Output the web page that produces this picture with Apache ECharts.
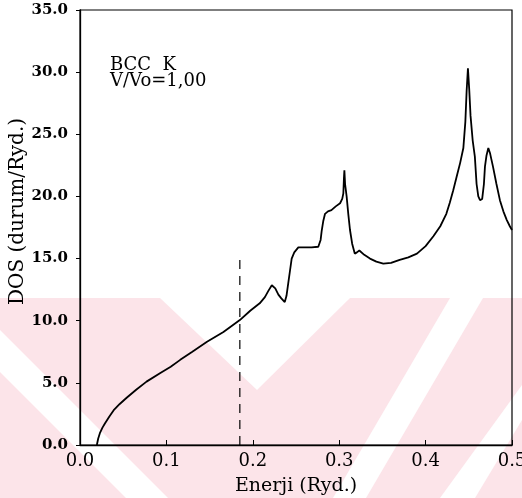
<!DOCTYPE html>
<html>
<head>
<meta charset="utf-8">
<script src="https://cdn.jsdelivr.net/npm/echarts@6/dist/echarts.min.js"></script>
<style>html,body{margin:0;padding:0;background:#fff;}#c{width:522px;height:498px;}</style>
</head>
<body>
<div id="c"></div>
<script>
// Energy (Ryd.) and DOS (states/Ryd.)
const energy = [0.0195,0.021,0.023,0.026,0.029,0.034,0.039,0.046,0.054,0.065,0.077,0.093,0.105,0.116,0.13,0.147,0.166,0.185,0.197,0.208,0.214,0.218,0.222,0.226,0.2296,0.233,0.237,0.239,0.241,0.243,0.245,0.248,0.2527,0.26,0.268,0.2758,0.2785,0.2797,0.2815,0.2836,0.287,0.291,0.296,0.301,0.3035,0.3048,0.3055,0.306,0.3068,0.3086,0.3105,0.3125,0.315,0.318,0.3205,0.3233,0.329,0.3356,0.343,0.351,0.36,0.37,0.38,0.39,0.4,0.409,0.417,0.424,0.428,0.432,0.436,0.44,0.4437,0.446,0.4475,0.449,0.4505,0.452,0.4545,0.457,0.459,0.461,0.463,0.4655,0.4675,0.4687,0.4705,0.4726,0.4745,0.478,0.482,0.486,0.49,0.494,0.4975,0.5];
const dos = [0,0.5,0.95,1.4,1.75,2.3,2.8,3.3,3.8,4.45,5.1,5.8,6.3,6.85,7.5,8.3,9.1,10.05,10.8,11.4,11.9,12.4,12.85,12.6,12.1,11.8,11.5,12.0,13.0,14.0,15.0,15.5,15.9,15.9,15.9,15.95,16.5,17.2,18.0,18.6,18.8,18.9,19.2,19.45,19.8,20.25,21.5,22.1,21.0,20.0,18.6,17.3,16.2,15.4,15.5,15.65,15.3,15.0,14.75,14.6,14.65,14.9,15.1,15.4,16.0,16.8,17.6,18.6,19.5,20.5,21.6,22.7,23.9,26.0,28.5,30.3,28.6,26.5,24.5,23.2,21.0,20.0,19.7,19.8,21.0,22.4,23.3,23.9,23.5,22.4,21.0,19.7,18.8,18.1,17.6,17.3];
// Fermi level marker (dashed)
const fermiX = [0.185, 0.185];
const fermiY = [0, 15];
const xTicks = ['0.0','0.1','0.2','0.3','0.4','0.5'];
const yTicks = ['0.0','5.0','10.0','15.0','20.0','25.0','30.0','35.0'];
const labelLines = ['BCC  K', 'V/Vo=1,00'];

const serif = '"DejaVu Serif", "Liberation Serif", serif';
const chart = echarts.init(document.getElementById('c'), null, {renderer: 'canvas'});
const pink = '#fce4e9';
chart.setOption({
  animation: false,
  backgroundColor: '#fff',
  graphic: [
    {type: 'rect', z: -10, silent: true, shape: {x: 0, y: 298, width: 522, height: 200}, style: {fill: pink}},
    {type: 'polygon', z: -9, silent: true, shape: {points: [[160,298],[350,298],[257,390]]}, style: {fill: '#fff'}},
    {type: 'polygon', z: -9, silent: true, shape: {points: [[0,330],[0,372],[126,498],[168,498]]}, style: {fill: '#fff'}},
    {type: 'polygon', z: -9, silent: true, shape: {points: [[450,298],[483,298],[366,498],[333,498]]}, style: {fill: '#fff'}},
    {type: 'polygon', z: -9, silent: true, shape: {points: [[522,385],[522,420],[475,498],[440,498]]}, style: {fill: '#fff'}},
    {type: 'text', left: 110, top: 56, z: 10, style: {text: labelLines.join('\n'), font: '18px ' + serif, fill: '#000', lineHeight: 16}}
  ],
  grid: {left: 80, right: 10, top: 10, bottom: 53, outerBoundsMode: 'none', containLabel: false,
         show: true, borderColor: '#000', borderWidth: 1.2, backgroundColor: 'transparent'},
  xAxis: {
    type: 'value', min: 0, max: 0.5, interval: 0.1,
    name: 'Enerji (Ryd.)', nameLocation: 'middle', nameGap: 32, nameMoveOverlap: false,
    nameTextStyle: {fontFamily: serif, fontSize: 19, color: '#000'},
    axisLine: {show: true, lineStyle: {color: '#000', width: 1.3}},
    axisTick: {show: true, inside: true, length: 5, lineStyle: {color: '#000'}},
    axisLabel: {fontFamily: serif, fontSize: 18, color: '#000', margin: 7,
      formatter: v => xTicks[Math.round(v * 10)]},
    splitLine: {show: false}
  },
  yAxis: {
    type: 'value', min: 0, max: 35, interval: 5,
    name: 'DOS (durum/Ryd.)', nameLocation: 'middle', nameGap: 52, nameRotate: 90, nameMoveOverlap: false,
    nameTextStyle: {fontFamily: serif, fontSize: 20, color: '#000', padding: [0, 0, 0, 32]},
    axisLine: {show: true, lineStyle: {color: '#000', width: 1.3}},
    axisTick: {show: true, inside: false, length: 4, lineStyle: {color: '#000'}},
    axisLabel: {fontFamily: serif, fontSize: 15, fontWeight: 'bold', color: '#000', margin: 12,
      formatter: v => yTicks[Math.round(v / 5)]},
    splitLine: {show: false}
  },
  series: [
    {type: 'line', data: energy.map((e, i) => [e, dos[i]]), showSymbol: false, symbol: 'none',
     lineStyle: {color: '#000', width: 1.8}, z: 5},
    {type: 'line', data: fermiX.map((e, i) => [e, fermiY[i]]), showSymbol: false, symbol: 'none',
     lineStyle: {color: '#000', width: 1.2, type: [9, 7]}, z: 4}
  ]
});
</script>
</body>
</html>
